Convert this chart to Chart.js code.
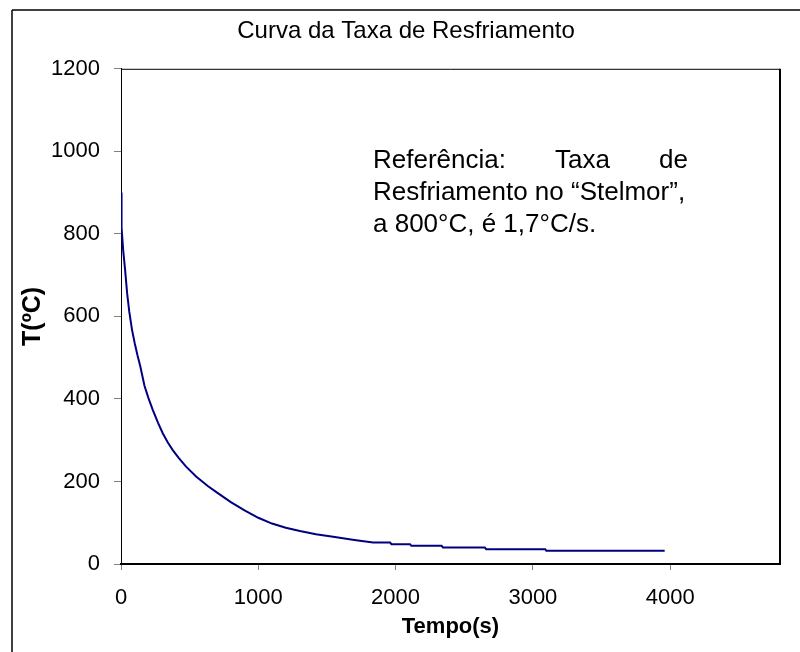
<!DOCTYPE html>
<html>
<head>
<meta charset="utf-8">
<script src="https://cdn.jsdelivr.net/npm/chart.js@4/dist/chart.umd.min.js"></script>
<style>
  html, body { margin: 0; padding: 0; background: #fff; }
  #wrap { width: 800px; height: 652px; }
</style>
</head>
<body>
<div id="wrap"><canvas id="c" width="800" height="652"></canvas></div>
<script>
// Cooling curve: time (s) against temperature (°C)
const tempo = [0, 4, 16, 30, 45, 60, 80, 100, 120, 140, 171, 200, 232, 270, 304, 340, 377, 420, 474, 547,
  632, 700, 800, 900, 1000, 1100, 1200, 1303, 1420, 1545, 1700, 1836, 1960, 1970, 2105, 2115, 2335, 2345,
  2650, 2660, 3090, 3098, 3960];
const temperatura = [900, 815, 760, 712, 655, 612, 568, 535, 506, 480, 432, 402, 373, 342, 317, 295, 276, 257, 236, 212,
  189, 173, 150, 130, 112, 98, 88, 80, 72, 66, 58, 52, 52, 48, 48, 44, 44, 40,
  40, 36, 36, 32, 32];

const xTicks = [0, 1000, 2000, 3000, 4000];
const yTicks = [0, 200, 400, 600, 800, 1000, 1200];

const titulo = 'Curva da Taxa de Resfriamento';
const tituloX = 'Tempo(s)';
const tituloY = 'T(ºC)';
const nota = [['Referência:', 'Taxa', 'de'], ['Resfriamento no “Stelmor”,'], ['a 800°C, é 1,7°C/s.']];

const FONT = '"Liberation Sans", Arial, sans-serif';

// Outer frame, plot border and the text box
const decor = {
  id: 'decor',
  beforeDraw(chart) {
    const ctx = chart.ctx;
    ctx.save();
    ctx.fillStyle = '#fff';
    ctx.fillRect(0, 0, chart.width, chart.height);
    ctx.strokeStyle = '#404040';
    ctx.lineWidth = 2;
    ctx.beginPath();
    ctx.moveTo(12, 10); ctx.lineTo(chart.width, 10);
    ctx.stroke();
    ctx.strokeStyle = '#000';
    ctx.lineWidth = 1.5;
    ctx.beginPath();
    ctx.moveTo(12, 10); ctx.lineTo(12, chart.height);
    ctx.stroke();
    ctx.restore();
  },
  afterDraw(chart) {
    const ctx = chart.ctx;
    const a = chart.chartArea;
    ctx.save();
    ctx.strokeStyle = '#000';
    ctx.lineWidth = 1;
    ctx.beginPath();
    ctx.moveTo(a.left, a.top + 0.5); ctx.lineTo(a.right, a.top + 0.5);
    ctx.stroke();
    ctx.lineWidth = 2;
    ctx.beginPath();
    ctx.moveTo(a.right, a.top); ctx.lineTo(a.right, a.bottom + 1);
    ctx.stroke();

    // justified note text
    ctx.fillStyle = '#000';
    ctx.font = '26px ' + FONT;
    ctx.textBaseline = 'alphabetic';
    const left = a.left + 252, right = a.left + 567;
    let y = 168;
    nota.forEach(words => {
      if (words.length > 1) {
        const w = words.reduce((s, t) => s + ctx.measureText(t).width, 0);
        const gap = (right - left - w) / (words.length - 1);
        let x = left;
        words.forEach(t => { ctx.fillText(t, x, y); x += ctx.measureText(t).width + gap; });
      } else {
        ctx.fillText(words[0], left, y);
      }
      y += 32;
    });
    ctx.restore();
  }
};

new Chart(document.getElementById('c'), {
  type: 'scatter',
  data: {
    datasets: [{
      data: tempo.map((t, i) => ({ x: t, y: temperatura[i] })),
      showLine: true,
      borderColor: '#000080',
      backgroundColor: '#000080',
      borderWidth: 2,
      pointRadius: 0,
      tension: 0
    }]
  },
  options: {
    responsive: false,
    animation: false,
    layout: { padding: { left: 32, right: 20, top: 0, bottom: 0 } },
    plugins: {
      legend: { display: false },
      tooltip: { enabled: false },
      title: {
        display: true,
        text: titulo,
        color: '#000',
        font: { family: FONT, size: 24, weight: 'normal' },
        padding: { top: 17, bottom: 23 }
      }
    },
    scales: {
      x: {
        type: 'linear',
        min: 0,
        max: 4800,
        afterBuildTicks: s => { s.ticks = xTicks.map(v => ({ value: v })); },
        afterFit: s => { s.height = 88; },
        ticks: { color: '#000', font: { family: FONT, size: 22 }, padding: 15, maxRotation: 0, callback: v => String(v) },
        grid: { drawOnChartArea: false, drawTicks: true, tickLength: 6, color: '#808080' },
        border: { color: '#000', width: 2 },
        title: { display: true, text: tituloX, color: '#000', font: { family: FONT, size: 22, weight: 'bold' }, padding: { top: 0, bottom: 12 } }
      },
      y: {
        type: 'linear',
        min: 0,
        max: 1200,
        afterBuildTicks: s => { s.ticks = yTicks.map(v => ({ value: v })); },
        afterFit: s => { s.width = 89; },
        ticks: { color: '#000', font: { family: FONT, size: 22 }, padding: 14, callback: v => String(v) },
        grid: { drawOnChartArea: false, drawTicks: true, tickLength: 7, color: '#808080' },
        border: { color: '#000', width: 1 },
        title: { display: true, text: tituloY, color: '#000', font: { family: FONT, size: 25, weight: 'bold' }, padding: { top: -14, bottom: 0 } }
      }
    }
  },
  plugins: [decor]
});
</script>
</body>
</html>
